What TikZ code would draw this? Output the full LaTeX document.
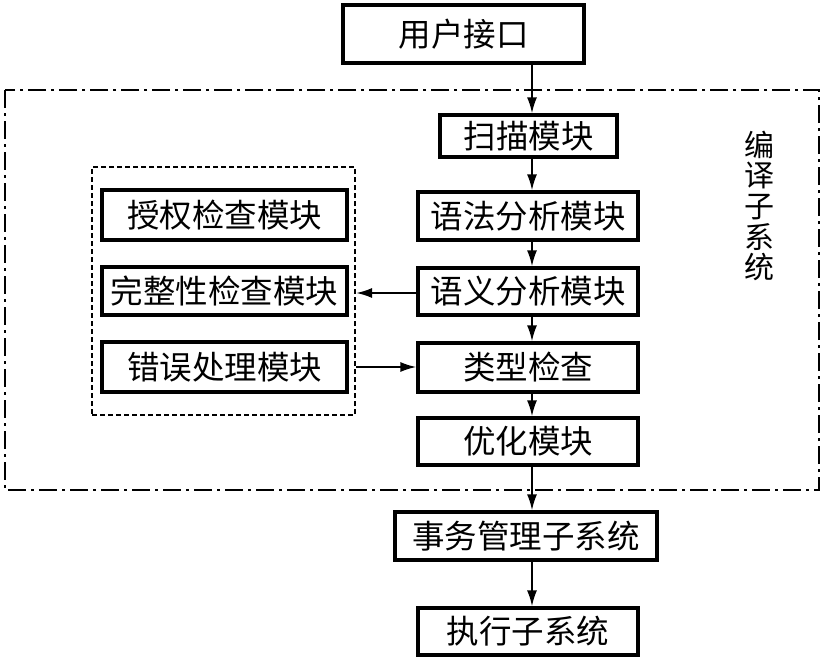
\documentclass[tikz,border=0pt]{standalone}
\usepackage{fontspec}
\setmainfont{Noto Sans CJK SC}
\usetikzlibrary{arrows.meta}
\tikzset{
  modbox/.style={draw, line width=3.2pt, inner sep=0pt, anchor=center,
    font=\fontsize{32.5}{35}\selectfont},
  flow/.style={line width=2pt, -{Latex[length=16pt,width=10pt]}},
  outerbox/.style={line width=2pt, dash pattern=on 18pt off 5pt on 3pt off 5pt},
  innerbox/.style={draw, line width=2pt, dash pattern=on 5pt off 3pt, inner sep=0pt}
}
\begin{document}
\begin{tikzpicture}[x=1pt,y=-1pt]
\useasboundingbox (0,0) rectangle (826,658);
% outer dash-dot frame
\draw[outerbox] (5,90) rectangle (819,490);
% inner dashed frame
\node[innerbox, minimum width=263pt, minimum height=248pt] (inner) at (223.5,291) {};
% main column
\node[modbox, minimum width=241pt, minimum height=58pt] (ui) at (463.5,34) {用户接口};
\node[modbox, minimum width=177pt, minimum height=42pt] (scan) at (528.5,136) {扫描模块};
\node[modbox, minimum width=220pt, minimum height=48pt] (syn) at (528,216) {语法分析模块};
\node[modbox, minimum width=220pt, minimum height=47pt] (sem) at (528,291.5) {语义分析模块};
\node[modbox, minimum width=220pt, minimum height=49pt] (type) at (528,367.5) {类型检查};
\node[modbox, minimum width=220pt, minimum height=47pt] (opt) at (528,441.5) {优化模块};
\node[modbox, minimum width=262pt, minimum height=48pt] (tx) at (526,536) {事务管理子系统};
\node[modbox, minimum width=220pt, minimum height=47pt] (exec) at (528,631.5) {执行子系统};
% left modules
\node[modbox, minimum width=245pt, minimum height=50pt] (auth) at (224.5,215) {授权检查模块};
\node[modbox, minimum width=245pt, minimum height=48pt] (integ) at (224.5,291) {完整性检查模块};
\node[modbox, minimum width=245pt, minimum height=50pt] (err) at (224.5,367) {错误处理模块};
% side label
\node[inner sep=0pt, align=center, font=\fontsize{30}{30.6}\selectfont] (lab) at (759,206) {编\\译\\子\\系\\统};
% arrows
\coordinate (ax) at (532,0);
\draw[flow] (ui.south -| ax) -- (scan.north -| ax);
\draw[flow] (scan.south -| ax) -- (syn.north -| ax);
\draw[flow] (syn.south -| ax) -- (sem.north -| ax);
\draw[flow] (sem.south -| ax) -- (type.north -| ax);
\draw[flow] (type.south -| ax) -- (opt.north -| ax);
\draw[flow] (opt.south -| ax) -- (tx.north -| ax);
\draw[flow] (tx.south -| ax) -- (exec.north -| ax);
\draw[flow] ([yshift=-1.5pt]sem.west) -- ([yshift=-1.5pt]sem.west -| inner.east);
\draw[flow] (err.east -| inner.east) -- (err.east -| type.west);
\end{tikzpicture}
\end{document}
